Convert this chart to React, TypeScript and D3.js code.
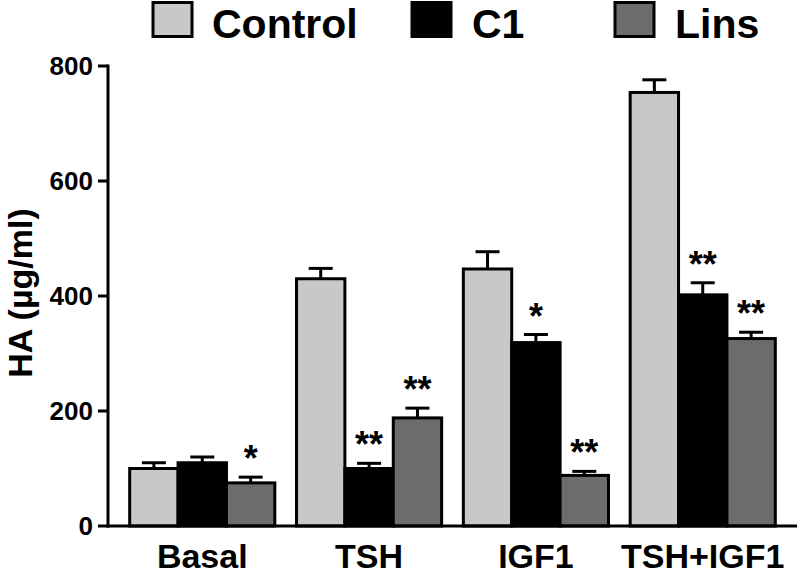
import React from "react";
import * as d3 from "d3";

const categories = ["Basal", "TSH", "IGF1", "TSH+IGF1"];
const seriesNames = ["Control", "C1", "Lins"];
const seriesColors = ["#c8c8c8", "#000000", "#6c6c6c"];
const controlValues = [100, 430, 447, 754];
const controlErrors = [10, 18, 30, 22];
const c1Values = [110, 100, 319, 402];
const c1Errors = [10, 9, 14, 21];
const linsValues = [75, 188, 88, 326];
const linsErrors = [10, 17, 7, 11];
const c1Stars = ["", "**", "*", "**"];
const linsStars = ["*", "**", "**", "**"];
const yTicks = [0, 200, 400, 600, 800];

const W = 800;
const H = 576;
const X0 = 108;
const X1 = 797;
const Y0 = 526;
const Y1 = 66;

export default function App() {
  const x = d3
    .scaleBand<string>()
    .domain(categories)
    .range([X0, X1])
    .paddingInner(0.13)
    .paddingOuter(0.13);
  const xs = d3
    .scaleBand<string>()
    .domain(seriesNames)
    .range([0, x.bandwidth()])
    .padding(0);
  const y = d3.scaleLinear().domain([0, 800]).range([Y0, Y1]);

  const values = [controlValues, c1Values, linsValues];
  const errors = [controlErrors, c1Errors, linsErrors];
  const stars = [categories.map(() => ""), c1Stars, linsStars];
  const font = "'Liberation Sans', Arial, Helvetica, sans-serif";

  const legendPos = [
    { box: 153, text: 212 },
    { box: 412, text: 472 },
    { box: 615, text: 675 },
  ];

  return (
    <svg
      width={W}
      height={H}
      style={{ position: "absolute", left: 0, top: 0, background: "#fff" }}
      fontFamily={font}
      fontWeight="bold"
    >
      {/* Legend */}
      {seriesNames.map((s, i) => (
        <g key={s}>
          <rect
            x={legendPos[i].box}
            y={2.5}
            width={39}
            height={34}
            fill={seriesColors[i]}
            stroke="#000"
            strokeWidth={3}
          />
          <text x={legendPos[i].text} y={37.5} fontSize={41} fill="#000">
            {s}
          </text>
        </g>
      ))}

      {/* Bars */}
      {categories.map((c, ci) => (
        <g key={c}>
          {seriesNames.map((s, si) => {
            const v = values[si][ci];
            const e = errors[si][ci];
            const bx = (x(c) ?? 0) + (xs(s) ?? 0);
            const bw = xs.bandwidth();
            const cx = bx + bw / 2;
            return (
              <g key={s}>
                <line x1={cx} x2={cx} y1={y(v)} y2={y(v + e)} stroke="#000" strokeWidth={3} />
                <line x1={cx - 12} x2={cx + 12} y1={y(v + e)} y2={y(v + e)} stroke="#000" strokeWidth={3} />
                <rect
                  x={bx}
                  y={y(v)}
                  width={bw}
                  height={y(0) - y(v)}
                  fill={seriesColors[si]}
                  stroke="#000"
                  strokeWidth={3}
                />
                {stars[si][ci] ? (
                  <text x={cx} y={y(v + e) - 6} fontSize={36} textAnchor="middle" fill="#000">
                    {stars[si][ci]}
                  </text>
                ) : null}
              </g>
            );
          })}
        </g>
      ))}

      {/* Y axis */}
      <line x1={X0} x2={X0} y1={y(800) - 1.5} y2={Y0 + 1.5} stroke="#000" strokeWidth={3} />
      {yTicks.map((t) => (
        <g key={t}>
          <line x1={X0 - 10} x2={X0} y1={y(t)} y2={y(t)} stroke="#000" strokeWidth={3} />
          <text x={93} y={y(t) + 9} fontSize={26} textAnchor="end" fill="#000">
            {t}
          </text>
        </g>
      ))}
      {/* X axis */}
      <line x1={X0 - 1.5} x2={X1} y1={Y0} y2={Y0} stroke="#000" strokeWidth={3} />
      {categories.map((c) => (
        <text
          key={c}
          x={(x(c) ?? 0) + x.bandwidth() / 2}
          y={568}
          fontSize={34}
          textAnchor="middle"
          fill="#000"
        >
          {c}
        </text>
      ))}

      {/* Y label */}
      <text
        transform={`translate(32, 293) rotate(-90)`}
        fontSize={34}
        textAnchor="middle"
        fill="#000"
      >
        HA (µg/ml)
      </text>
    </svg>
  );
}
